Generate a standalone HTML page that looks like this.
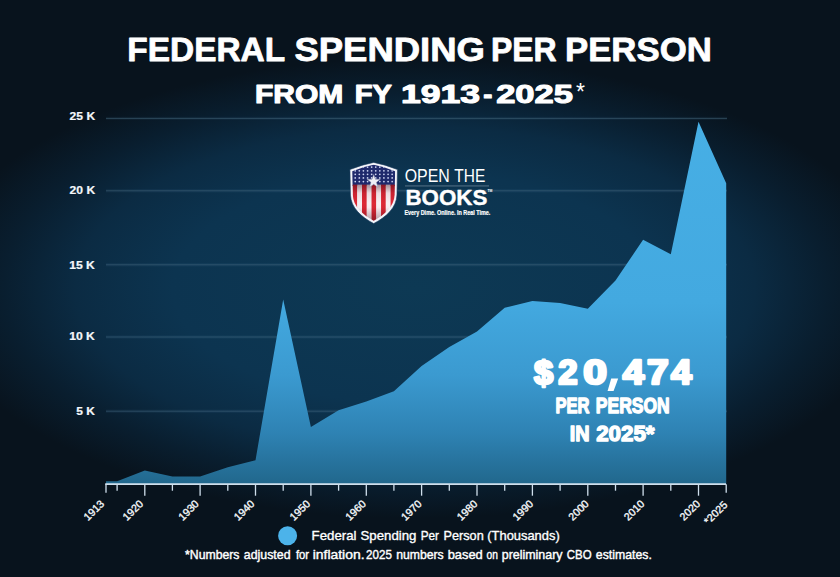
<!DOCTYPE html>
<html><head><meta charset="utf-8"><title>Federal Spending Per Person</title>
<style>
html,body{margin:0;padding:0;background:#08131d;}
body{width:840px;height:577px;overflow:hidden;font-family:"Liberation Sans",sans-serif;}
svg{display:block;}
text{font-family:"Liberation Sans",sans-serif;}
</style></head><body>
<svg width="840" height="577" viewBox="0 0 840 577">
<defs>
<radialGradient id="bg" cx="415" cy="288" r="485" gradientUnits="userSpaceOnUse" gradientTransform="translate(415 288) scale(1 0.475) translate(-415 -288)">
<stop offset="0" stop-color="#0d3954"/>
<stop offset="0.5" stop-color="#0c3450"/>
<stop offset="0.7" stop-color="#0b2b43"/>
<stop offset="0.85" stop-color="#091e2f"/>
<stop offset="1" stop-color="#08131d"/>
</radialGradient>
<linearGradient id="area" x1="0" y1="120" x2="0" y2="484.5" gradientUnits="userSpaceOnUse">
<stop offset="0" stop-color="#47afe5"/>
<stop offset="0.50" stop-color="#43a9e0"/>
<stop offset="0.70" stop-color="#3b9ad0"/>
<stop offset="0.86" stop-color="#2e82b3"/>
<stop offset="1" stop-color="#21678c"/>
</linearGradient>
<linearGradient id="shade" x1="0" y1="184.9" x2="0" y2="222" gradientUnits="userSpaceOnUse">
<stop offset="0" stop-color="#2a0a14" stop-opacity="0.38"/><stop offset="0.22" stop-color="#2a0a14" stop-opacity="0.05"/><stop offset="0.6" stop-color="#2a0a14" stop-opacity="0"/><stop offset="1" stop-color="#2a0a14" stop-opacity="0.3"/>
</linearGradient>
<linearGradient id="redg" x1="0" y1="184" x2="0" y2="222" gradientUnits="userSpaceOnUse">
<stop offset="0" stop-color="#c61f2e"/><stop offset="0.5" stop-color="#e02a36"/><stop offset="1" stop-color="#b81d2b"/>
</linearGradient>
<linearGradient id="whg" x1="0" y1="184" x2="0" y2="222" gradientUnits="userSpaceOnUse">
<stop offset="0" stop-color="#f3dfe4"/><stop offset="0.5" stop-color="#fbf3f5"/><stop offset="1" stop-color="#e9cfd6"/>
</linearGradient>
</defs>
<rect width="840" height="577" fill="#08131d"/>
<rect width="840" height="577" fill="url(#bg)"/>
<!-- grid -->
<line x1="106" x2="727" y1="118.4" y2="118.4" stroke="#5b93b8" stroke-opacity="0.07" stroke-width="3.4"/>
<line x1="106" x2="727" y1="118.4" y2="118.4" stroke="#44697f" stroke-opacity="0.6" stroke-width="0.9"/>
<line x1="106" x2="727" y1="190.8" y2="190.8" stroke="#5b93b8" stroke-opacity="0.07" stroke-width="3.4"/>
<line x1="106" x2="727" y1="190.8" y2="190.8" stroke="#44697f" stroke-opacity="0.6" stroke-width="0.9"/>
<line x1="106" x2="727" y1="264.8" y2="264.8" stroke="#5b93b8" stroke-opacity="0.07" stroke-width="3.4"/>
<line x1="106" x2="727" y1="264.8" y2="264.8" stroke="#44697f" stroke-opacity="0.6" stroke-width="0.9"/>
<line x1="106" x2="727" y1="337.0" y2="337.0" stroke="#5b93b8" stroke-opacity="0.07" stroke-width="3.4"/>
<line x1="106" x2="727" y1="337.0" y2="337.0" stroke="#44697f" stroke-opacity="0.6" stroke-width="0.9"/>
<line x1="106" x2="727" y1="411.2" y2="411.2" stroke="#5b93b8" stroke-opacity="0.07" stroke-width="3.4"/>
<line x1="106" x2="727" y1="411.2" y2="411.2" stroke="#44697f" stroke-opacity="0.6" stroke-width="0.9"/>

<!-- area -->
<polygon points="106.0,484.2 106.0,481.2 117.1,481.2 144.8,470.5 172.4,476.4 200.1,476.4 227.8,467.3 255.5,460.3 283.2,299.5 310.9,426.9 338.6,410.3 366.3,401.6 393.9,391.3 421.6,365.9 449.3,346.9 477.0,331.6 504.7,307.7 532.4,301.1 560.1,303.0 587.8,308.7 615.5,280.5 643.1,239.8 670.8,254.2 698.5,121.8 726.2,183.2 726.2,484.2" fill="url(#area)"/>
<!-- axis -->
<line x1="105.2" x2="726" y1="484.2" y2="484.2" stroke="#cfdfec" stroke-width="1.8"/>
<line x1="117.1" x2="117.1" y1="484.2" y2="490.7" stroke="#cfdfec" stroke-width="1.3"/>
<line x1="144.8" x2="144.8" y1="484.2" y2="495.7" stroke="#cfdfec" stroke-width="1.3"/>
<line x1="172.4" x2="172.4" y1="484.2" y2="490.7" stroke="#cfdfec" stroke-width="1.3"/>
<line x1="200.1" x2="200.1" y1="484.2" y2="495.7" stroke="#cfdfec" stroke-width="1.3"/>
<line x1="227.8" x2="227.8" y1="484.2" y2="490.7" stroke="#cfdfec" stroke-width="1.3"/>
<line x1="255.5" x2="255.5" y1="484.2" y2="495.7" stroke="#cfdfec" stroke-width="1.3"/>
<line x1="283.2" x2="283.2" y1="484.2" y2="490.7" stroke="#cfdfec" stroke-width="1.3"/>
<line x1="310.9" x2="310.9" y1="484.2" y2="495.7" stroke="#cfdfec" stroke-width="1.3"/>
<line x1="338.6" x2="338.6" y1="484.2" y2="490.7" stroke="#cfdfec" stroke-width="1.3"/>
<line x1="366.3" x2="366.3" y1="484.2" y2="495.7" stroke="#cfdfec" stroke-width="1.3"/>
<line x1="393.9" x2="393.9" y1="484.2" y2="490.7" stroke="#cfdfec" stroke-width="1.3"/>
<line x1="421.6" x2="421.6" y1="484.2" y2="495.7" stroke="#cfdfec" stroke-width="1.3"/>
<line x1="449.3" x2="449.3" y1="484.2" y2="490.7" stroke="#cfdfec" stroke-width="1.3"/>
<line x1="477.0" x2="477.0" y1="484.2" y2="495.7" stroke="#cfdfec" stroke-width="1.3"/>
<line x1="504.7" x2="504.7" y1="484.2" y2="490.7" stroke="#cfdfec" stroke-width="1.3"/>
<line x1="532.4" x2="532.4" y1="484.2" y2="495.7" stroke="#cfdfec" stroke-width="1.3"/>
<line x1="560.1" x2="560.1" y1="484.2" y2="490.7" stroke="#cfdfec" stroke-width="1.3"/>
<line x1="587.8" x2="587.8" y1="484.2" y2="495.7" stroke="#cfdfec" stroke-width="1.3"/>
<line x1="615.5" x2="615.5" y1="484.2" y2="490.7" stroke="#cfdfec" stroke-width="1.3"/>
<line x1="643.1" x2="643.1" y1="484.2" y2="495.7" stroke="#cfdfec" stroke-width="1.3"/>
<line x1="670.8" x2="670.8" y1="484.2" y2="490.7" stroke="#cfdfec" stroke-width="1.3"/>
<line x1="698.5" x2="698.5" y1="484.2" y2="495.7" stroke="#cfdfec" stroke-width="1.3"/>
<line x1="726.2" x2="726.2" y1="484.2" y2="492.7" stroke="#cfdfec" stroke-width="1.3"/>
<line x1="106.0" x2="106.0" y1="484.2" y2="492.7" stroke="#cfdfec" stroke-width="1.3"/>

<text x="69.64" y="120.0" font-size="10.2" font-weight="bold" fill="#f4f7fa" stroke="#f4f7fa" stroke-width="0.2" stroke-linejoin="round" textLength="25.59" lengthAdjust="spacingAndGlyphs">25 K</text>
<text x="69.64" y="194.3" font-size="10.2" font-weight="bold" fill="#f4f7fa" stroke="#f4f7fa" stroke-width="0.2" stroke-linejoin="round" textLength="25.59" lengthAdjust="spacingAndGlyphs">20 K</text>
<text x="69.16" y="268.7" font-size="10.2" font-weight="bold" fill="#f4f7fa" stroke="#f4f7fa" stroke-width="0.2" stroke-linejoin="round" textLength="25.69" lengthAdjust="spacingAndGlyphs">15 K</text>
<text x="69.16" y="340.4" font-size="10.2" font-weight="bold" fill="#f4f7fa" stroke="#f4f7fa" stroke-width="0.2" stroke-linejoin="round" textLength="25.69" lengthAdjust="spacingAndGlyphs">10 K</text>
<text x="76.28" y="414.7" font-size="10.2" font-weight="bold" fill="#f4f7fa" stroke="#f4f7fa" stroke-width="0.2" stroke-linejoin="round" textLength="18.63" lengthAdjust="spacingAndGlyphs">5 K</text>

<text transform="translate(104.9,504.4) rotate(-45)" text-anchor="end" font-size="10.6" fill="#f4f7fa" stroke="#f4f7fa" stroke-width="0.35" letter-spacing="0.1">1913</text>
<text transform="translate(143.9,504.4) rotate(-45)" text-anchor="end" font-size="10.6" fill="#f4f7fa" stroke="#f4f7fa" stroke-width="0.35" letter-spacing="0.1">1920</text>
<text transform="translate(199.6,504.4) rotate(-45)" text-anchor="end" font-size="10.6" fill="#f4f7fa" stroke="#f4f7fa" stroke-width="0.35" letter-spacing="0.1">1930</text>
<text transform="translate(255.3,504.4) rotate(-45)" text-anchor="end" font-size="10.6" fill="#f4f7fa" stroke="#f4f7fa" stroke-width="0.35" letter-spacing="0.1">1940</text>
<text transform="translate(311.0,504.4) rotate(-45)" text-anchor="end" font-size="10.6" fill="#f4f7fa" stroke="#f4f7fa" stroke-width="0.35" letter-spacing="0.1">1950</text>
<text transform="translate(366.7,504.4) rotate(-45)" text-anchor="end" font-size="10.6" fill="#f4f7fa" stroke="#f4f7fa" stroke-width="0.35" letter-spacing="0.1">1960</text>
<text transform="translate(422.4,504.4) rotate(-45)" text-anchor="end" font-size="10.6" fill="#f4f7fa" stroke="#f4f7fa" stroke-width="0.35" letter-spacing="0.1">1970</text>
<text transform="translate(478.2,504.4) rotate(-45)" text-anchor="end" font-size="10.6" fill="#f4f7fa" stroke="#f4f7fa" stroke-width="0.35" letter-spacing="0.1">1980</text>
<text transform="translate(533.9,504.4) rotate(-45)" text-anchor="end" font-size="10.6" fill="#f4f7fa" stroke="#f4f7fa" stroke-width="0.35" letter-spacing="0.1">1990</text>
<text transform="translate(589.6,504.4) rotate(-45)" text-anchor="end" font-size="10.6" fill="#f4f7fa" stroke="#f4f7fa" stroke-width="0.35" letter-spacing="0.1">2000</text>
<text transform="translate(645.3,504.4) rotate(-45)" text-anchor="end" font-size="10.6" fill="#f4f7fa" stroke="#f4f7fa" stroke-width="0.35" letter-spacing="0.1">2010</text>
<text transform="translate(701.0,504.4) rotate(-45)" text-anchor="end" font-size="10.6" fill="#f4f7fa" stroke="#f4f7fa" stroke-width="0.35" letter-spacing="0.1">2020</text>
<text transform="translate(728.2,505.4) rotate(-45)" text-anchor="end" font-size="10.6" fill="#f4f7fa" stroke="#f4f7fa" stroke-width="0.35" letter-spacing="0.1">*2025</text>

<!-- titles -->
<text x="127.33" y="61.2" font-size="33.6" font-weight="bold" fill="#ffffff" stroke="#ffffff" stroke-width="0.8" stroke-linejoin="round" textLength="157.75" lengthAdjust="spacingAndGlyphs">FEDERAL</text>
<text x="294.45" y="61.2" font-size="33.6" font-weight="bold" fill="#ffffff" stroke="#ffffff" stroke-width="0.8" stroke-linejoin="round" textLength="190.55" lengthAdjust="spacingAndGlyphs">SPENDING</text>
<text x="490.89" y="61.2" font-size="33.6" font-weight="bold" fill="#ffffff" stroke="#ffffff" stroke-width="0.8" stroke-linejoin="round" textLength="65.65" lengthAdjust="spacingAndGlyphs">PER</text>
<text x="564.95" y="61.2" font-size="33.6" font-weight="bold" fill="#ffffff" stroke="#ffffff" stroke-width="0.8" stroke-linejoin="round" textLength="146.86" lengthAdjust="spacingAndGlyphs">PERSON</text>
<text x="254.98" y="103.2" font-size="26.0" font-weight="bold" fill="#ffffff" stroke="#ffffff" stroke-width="1.1" stroke-linejoin="round" textLength="88.34" lengthAdjust="spacingAndGlyphs">FROM</text>
<text x="354.68" y="103.2" font-size="26.0" font-weight="bold" fill="#ffffff" stroke="#ffffff" stroke-width="1.1" stroke-linejoin="round" textLength="37.19" lengthAdjust="spacingAndGlyphs">FY</text>
<text x="401.03" y="103.2" font-size="26.0" font-weight="bold" fill="#ffffff" stroke="#ffffff" stroke-width="1.1" stroke-linejoin="round" textLength="79.05" lengthAdjust="spacingAndGlyphs">1913</text>
<text x="483.15" y="103.2" font-size="26.0" font-weight="bold" fill="#ffffff" stroke="#ffffff" stroke-width="1.1" stroke-linejoin="round" textLength="9.12" lengthAdjust="spacingAndGlyphs">-</text>
<text x="496.16" y="103.2" font-size="26.0" font-weight="bold" fill="#ffffff" stroke="#ffffff" stroke-width="1.1" stroke-linejoin="round" textLength="76.71" lengthAdjust="spacingAndGlyphs">2025</text>
<text x="575.9" y="99.5" font-size="23" fill="#ffffff">*</text>
<!-- callout -->
<text x="533.91" y="384.0" font-size="33.2" font-weight="bold" fill="#ffffff" stroke="#ffffff" stroke-width="2.5" stroke-linejoin="round" textLength="19.15" lengthAdjust="spacingAndGlyphs">$</text>
<text x="558.23" y="383.7" font-size="34.2" font-weight="bold" fill="#ffffff" stroke="#ffffff" stroke-width="2.6" stroke-linejoin="round" textLength="19.31" lengthAdjust="spacingAndGlyphs">2</text>
<text x="583.28" y="383.7" font-size="34.2" font-weight="bold" fill="#ffffff" stroke="#ffffff" stroke-width="2.6" stroke-linejoin="round" textLength="23.67" lengthAdjust="spacingAndGlyphs">0</text>
<polygon points="611.2,378.6 618.2,378.6 613.6,391 607.6,391" fill="#ffffff"/>
<text x="622.68" y="383.7" font-size="34.2" font-weight="bold" fill="#ffffff" stroke="#ffffff" stroke-width="2.6" stroke-linejoin="round" textLength="21.41" lengthAdjust="spacingAndGlyphs">4</text>
<text x="647.06" y="383.7" font-size="34.2" font-weight="bold" fill="#ffffff" stroke="#ffffff" stroke-width="2.6" stroke-linejoin="round" textLength="21.66" lengthAdjust="spacingAndGlyphs">7</text>
<text x="671.01" y="383.7" font-size="34.2" font-weight="bold" fill="#ffffff" stroke="#ffffff" stroke-width="2.6" stroke-linejoin="round" textLength="20.68" lengthAdjust="spacingAndGlyphs">4</text>
<text x="555.53" y="412.8" font-size="22.6" font-weight="bold" fill="#ffffff" stroke="#ffffff" stroke-width="1.4" stroke-linejoin="round" textLength="34.03" lengthAdjust="spacingAndGlyphs">PER</text>
<text x="595.82" y="412.8" font-size="22.6" font-weight="bold" fill="#ffffff" stroke="#ffffff" stroke-width="1.4" stroke-linejoin="round" textLength="73.92" lengthAdjust="spacingAndGlyphs">PERSON</text>
<text x="569.74" y="440.9" font-size="22.6" font-weight="bold" fill="#ffffff" stroke="#ffffff" stroke-width="1.4" stroke-linejoin="round" textLength="19.87" lengthAdjust="spacingAndGlyphs">IN</text>
<text x="596.17" y="440.9" font-size="22.6" font-weight="bold" fill="#ffffff" stroke="#ffffff" stroke-width="1.4" stroke-linejoin="round" textLength="58.41" lengthAdjust="spacingAndGlyphs">2025*</text>
<!-- legend -->
<circle cx="287.6" cy="535.7" r="9.5" fill="#4cb3ea"/>
<text x="311.57" y="540.2" font-size="13.0" fill="#ffffff" stroke="#ffffff" stroke-width="0.35" stroke-linejoin="round" textLength="44.91" lengthAdjust="spacingAndGlyphs">Federal</text>
<text x="360.51" y="540.2" font-size="13.0" fill="#ffffff" stroke="#ffffff" stroke-width="0.35" stroke-linejoin="round" textLength="55.98" lengthAdjust="spacingAndGlyphs">Spending</text>
<text x="420.67" y="540.2" font-size="13.0" fill="#ffffff" stroke="#ffffff" stroke-width="0.35" stroke-linejoin="round" textLength="18.32" lengthAdjust="spacingAndGlyphs">Per</text>
<text x="443.48" y="540.2" font-size="13.0" fill="#ffffff" stroke="#ffffff" stroke-width="0.35" stroke-linejoin="round" textLength="40.25" lengthAdjust="spacingAndGlyphs">Person</text>
<text x="487.34" y="540.2" font-size="13.0" fill="#ffffff" stroke="#ffffff" stroke-width="0.35" stroke-linejoin="round" textLength="72.37" lengthAdjust="spacingAndGlyphs">(Thousands)</text>
<text x="185.04" y="558.7" font-size="12.4" fill="#ffffff" stroke="#ffffff" stroke-width="0.4" stroke-linejoin="round" textLength="54.45" lengthAdjust="spacingAndGlyphs">*Numbers</text>
<text x="243.86" y="558.7" font-size="12.4" fill="#ffffff" stroke="#ffffff" stroke-width="0.4" stroke-linejoin="round" textLength="46.68" lengthAdjust="spacingAndGlyphs">adjusted</text>
<text x="295.93" y="558.7" font-size="12.4" fill="#ffffff" stroke="#ffffff" stroke-width="0.4" stroke-linejoin="round" textLength="13.14" lengthAdjust="spacingAndGlyphs">for</text>
<text x="312.75" y="558.7" font-size="12.4" fill="#ffffff" stroke="#ffffff" stroke-width="0.4" stroke-linejoin="round" textLength="51.77" lengthAdjust="spacingAndGlyphs">inflation.</text>
<text x="366.11" y="558.7" font-size="12.4" fill="#ffffff" stroke="#ffffff" stroke-width="0.4" stroke-linejoin="round" textLength="25.81" lengthAdjust="spacingAndGlyphs">2025</text>
<text x="396.21" y="558.7" font-size="12.4" fill="#ffffff" stroke="#ffffff" stroke-width="0.4" stroke-linejoin="round" textLength="47.51" lengthAdjust="spacingAndGlyphs">numbers</text>
<text x="447.68" y="558.7" font-size="12.4" fill="#ffffff" stroke="#ffffff" stroke-width="0.4" stroke-linejoin="round" textLength="35.12" lengthAdjust="spacingAndGlyphs">based</text>
<text x="486.49" y="558.7" font-size="12.4" fill="#ffffff" stroke="#ffffff" stroke-width="0.4" stroke-linejoin="round" textLength="11.36" lengthAdjust="spacingAndGlyphs">on</text>
<text x="501.72" y="558.7" font-size="12.4" fill="#ffffff" stroke="#ffffff" stroke-width="0.4" stroke-linejoin="round" textLength="60.81" lengthAdjust="spacingAndGlyphs">preliminary</text>
<text x="566.74" y="558.7" font-size="12.4" fill="#ffffff" stroke="#ffffff" stroke-width="0.4" stroke-linejoin="round" textLength="24.80" lengthAdjust="spacingAndGlyphs">CBO</text>
<text x="595.86" y="558.7" font-size="12.4" fill="#ffffff" stroke="#ffffff" stroke-width="0.4" stroke-linejoin="round" textLength="55.95" lengthAdjust="spacingAndGlyphs">estimates.</text>
<!-- LOGO -->
<g id="logo">
<g transform="translate(373.7 193) scale(1.02) translate(-373.7 -193)"><clipPath id="shc"><path d="M352.7,171.6 Q363,167.3 373.7,165.4 Q384.5,167.3 394.7,171.6 L394.2,195 C393.7,206 384.8,214.2 373.7,220.3 C362.6,214.2 353.7,206 353.2,195 Z"/></clipPath>
<path d="M350.4,170 Q362,165.2 373.7,163 Q385.5,165.2 397.0,170 L396.5,195 C396,207.5 386,216.5 373.7,223 C361.5,216.5 351.4,207.5 350.9,195 Z" fill="#f3f5fa" stroke="#1a3a5e" stroke-width="0.6"/>
<g clip-path="url(#shc)">
<rect x="350" y="160" width="50" height="26" fill="#1f2a6c"/>
<circle cx="355.6" cy="167.6" r="0.85" fill="#cdd5f2"/><circle cx="359.6" cy="167.6" r="0.85" fill="#cdd5f2"/><circle cx="363.6" cy="167.6" r="0.85" fill="#cdd5f2"/><circle cx="367.7" cy="167.6" r="0.85" fill="#cdd5f2"/><circle cx="371.7" cy="167.6" r="0.85" fill="#cdd5f2"/><circle cx="375.7" cy="167.6" r="0.85" fill="#cdd5f2"/><circle cx="379.7" cy="167.6" r="0.85" fill="#cdd5f2"/><circle cx="383.7" cy="167.6" r="0.85" fill="#cdd5f2"/><circle cx="387.8" cy="167.6" r="0.85" fill="#cdd5f2"/><circle cx="391.8" cy="167.6" r="0.85" fill="#cdd5f2"/><circle cx="395.8" cy="167.6" r="0.85" fill="#cdd5f2"/><circle cx="355.6" cy="171.2" r="0.85" fill="#cdd5f2"/><circle cx="359.6" cy="171.2" r="0.85" fill="#cdd5f2"/><circle cx="363.6" cy="171.2" r="0.85" fill="#cdd5f2"/><circle cx="367.7" cy="171.2" r="0.85" fill="#cdd5f2"/><circle cx="371.7" cy="171.2" r="0.85" fill="#cdd5f2"/><circle cx="375.7" cy="171.2" r="0.85" fill="#cdd5f2"/><circle cx="379.7" cy="171.2" r="0.85" fill="#cdd5f2"/><circle cx="383.7" cy="171.2" r="0.85" fill="#cdd5f2"/><circle cx="387.8" cy="171.2" r="0.85" fill="#cdd5f2"/><circle cx="391.8" cy="171.2" r="0.85" fill="#cdd5f2"/><circle cx="395.8" cy="171.2" r="0.85" fill="#cdd5f2"/><circle cx="355.6" cy="174.7" r="0.85" fill="#cdd5f2"/><circle cx="359.6" cy="174.7" r="0.85" fill="#cdd5f2"/><circle cx="363.6" cy="174.7" r="0.85" fill="#cdd5f2"/><circle cx="367.7" cy="174.7" r="0.85" fill="#cdd5f2"/><circle cx="371.7" cy="174.7" r="0.85" fill="#cdd5f2"/><circle cx="375.7" cy="174.7" r="0.85" fill="#cdd5f2"/><circle cx="379.7" cy="174.7" r="0.85" fill="#cdd5f2"/><circle cx="383.7" cy="174.7" r="0.85" fill="#cdd5f2"/><circle cx="387.8" cy="174.7" r="0.85" fill="#cdd5f2"/><circle cx="391.8" cy="174.7" r="0.85" fill="#cdd5f2"/><circle cx="395.8" cy="174.7" r="0.85" fill="#cdd5f2"/><circle cx="355.6" cy="178.2" r="0.85" fill="#cdd5f2"/><circle cx="359.6" cy="178.2" r="0.85" fill="#cdd5f2"/><circle cx="363.6" cy="178.2" r="0.85" fill="#cdd5f2"/><circle cx="367.7" cy="178.2" r="0.85" fill="#cdd5f2"/><circle cx="371.7" cy="178.2" r="0.85" fill="#cdd5f2"/><circle cx="375.7" cy="178.2" r="0.85" fill="#cdd5f2"/><circle cx="379.7" cy="178.2" r="0.85" fill="#cdd5f2"/><circle cx="383.7" cy="178.2" r="0.85" fill="#cdd5f2"/><circle cx="387.8" cy="178.2" r="0.85" fill="#cdd5f2"/><circle cx="391.8" cy="178.2" r="0.85" fill="#cdd5f2"/><circle cx="395.8" cy="178.2" r="0.85" fill="#cdd5f2"/><circle cx="355.6" cy="181.8" r="0.85" fill="#cdd5f2"/><circle cx="359.6" cy="181.8" r="0.85" fill="#cdd5f2"/><circle cx="363.6" cy="181.8" r="0.85" fill="#cdd5f2"/><circle cx="367.7" cy="181.8" r="0.85" fill="#cdd5f2"/><circle cx="371.7" cy="181.8" r="0.85" fill="#cdd5f2"/><circle cx="375.7" cy="181.8" r="0.85" fill="#cdd5f2"/><circle cx="379.7" cy="181.8" r="0.85" fill="#cdd5f2"/><circle cx="383.7" cy="181.8" r="0.85" fill="#cdd5f2"/><circle cx="387.8" cy="181.8" r="0.85" fill="#cdd5f2"/><circle cx="391.8" cy="181.8" r="0.85" fill="#cdd5f2"/><circle cx="395.8" cy="181.8" r="0.85" fill="#cdd5f2"/>
<rect x="352.90" y="184.9" width="4.72" height="40" fill="url(#redg)"/><rect x="357.57" y="184.9" width="4.72" height="40" fill="url(#whg)"/><rect x="362.23" y="184.9" width="4.72" height="40" fill="url(#redg)"/><rect x="366.90" y="184.9" width="4.72" height="40" fill="url(#whg)"/><rect x="371.57" y="184.9" width="4.72" height="40" fill="url(#redg)"/><rect x="376.23" y="184.9" width="4.72" height="40" fill="url(#whg)"/><rect x="380.90" y="184.9" width="4.72" height="40" fill="url(#redg)"/><rect x="385.57" y="184.9" width="4.72" height="40" fill="url(#whg)"/><rect x="390.23" y="184.9" width="4.72" height="40" fill="url(#redg)"/>
<rect x="350" y="184.9" width="50" height="40" fill="url(#shade)"/>

</g>
<polygon points="373.70,174.80 375.35,179.43 380.26,179.57 376.36,182.57 377.76,187.28 373.70,184.50 369.64,187.28 371.04,182.57 367.14,179.57 372.05,179.43" fill="#eef0f6" stroke="#8d93ad" stroke-width="0.5"/></g>
<text x="404.72" y="181.6" font-size="17.6" fill="#ffffff" stroke="#ffffff" stroke-width="0.0" stroke-linejoin="round" textLength="45.11" lengthAdjust="spacingAndGlyphs">OPEN</text>
<text x="454.30" y="181.6" font-size="17.6" fill="#ffffff" stroke="#ffffff" stroke-width="0.0" stroke-linejoin="round" textLength="31.01" lengthAdjust="spacingAndGlyphs">THE</text>
<rect x="405" y="185.6" width="84" height="0.7" fill="#dfe8f0" opacity="0.5"/>
<text x="405.45" y="205.2" font-size="22.6" font-weight="bold" fill="#ffffff" stroke="#ffffff" stroke-width="0.4" stroke-linejoin="round" textLength="81.92" lengthAdjust="spacingAndGlyphs">BOOKS</text>
<text x="487.4" y="192.2" font-size="3.4" font-weight="bold" fill="#ffffff">TM</text>
<text x="404.38" y="215.4" font-size="6.9" font-weight="bold" fill="#ffffff" stroke="#ffffff" stroke-width="0.2" stroke-linejoin="round" textLength="85.97" lengthAdjust="spacingAndGlyphs">Every Dime. Online. In Real Time.</text>
</g>
</svg>
</body></html>
